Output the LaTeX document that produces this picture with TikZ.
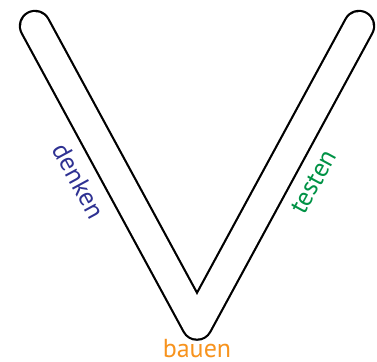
\documentclass[tikz,border=0pt]{standalone}
\usepackage{fontspec}
\setmainfont{PT Sans}
\definecolor{thinkblue}{HTML}{2E3192}
\definecolor{testgreen}{HTML}{009245}
\definecolor{buildorange}{HTML}{F7931E}
\begin{document}
\begin{tikzpicture}[x=1pt,y=-1pt,
  phase/.style={font=\fontsize{26}{26}\selectfont, inner sep=0pt}]
  \useasboundingbox (0,0) rectangle (377,361);
  % centre line of the V
  \coordinate (topL) at (35,26);
  \coordinate (tip)  at (197,324.6);
  \coordinate (topR) at (359,26);
  % outlined thick stroke: black wide pass, white narrower pass on top
  \draw[line width=32.4pt, line cap=round, line join=round]
    (topL) -- (tip) -- (topR);
  \draw[white, line width=28pt, line cap=round, line join=round]
    (topL) -- (tip) -- (topR);
  % phase labels
  \node[phase, text=thinkblue, rotate=-61.5] (denken) at (79,181) {denken};
  \node[phase, text=testgreen, rotate=61.5] (testen) at (314,182) {testen};
  \node[phase, text=buildorange, anchor=base] (bauen) at (197,357.5) {bauen};
\end{tikzpicture}
\end{document}
